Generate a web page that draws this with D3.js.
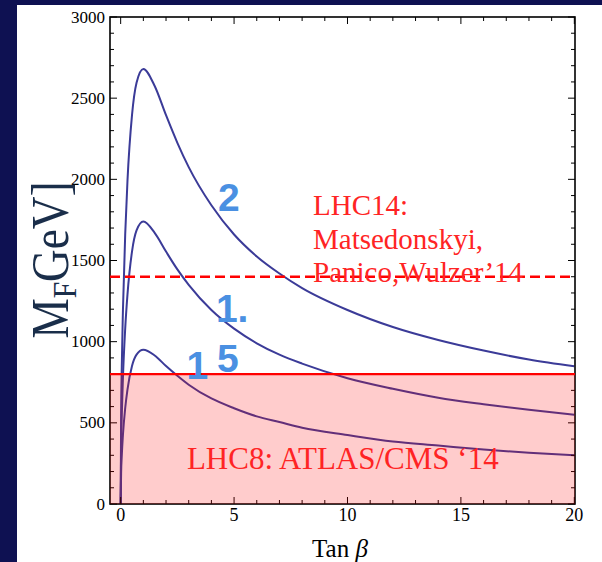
<!DOCTYPE html>
<html>
<head>
<meta charset="utf-8">
<script src="https://cdn.jsdelivr.net/npm/d3@7/dist/d3.min.js"></script>
<style>
  html, body { margin: 0; padding: 0; background: #0e1152; }
  svg { display: block; }
</style>
</head>
<body>
<svg id="chart" width="602" height="562"></svg>
<script>
// tan(beta) sample points and the fermion partner mass bound M_F [GeV] for each curve
const tanBeta = [0, 0.02, 0.05, 0.1, 0.2, 0.3, 0.5, 0.7, 1, 1.5, 2, 2.5, 3, 4, 5, 6, 7, 8, 10, 12, 14, 16, 18, 20];
const mF_2   = [0, 540, 850, 1190, 1660, 1990, 2395, 2595, 2680, 2575, 2395, 2225, 2075, 1840, 1660, 1525, 1420, 1330, 1195, 1090, 1010, 945, 890, 848];
const mF_1   = [0, 350, 550, 775, 1080, 1290, 1555, 1685, 1740, 1670, 1555, 1445, 1350, 1195, 1080, 990, 920, 865, 775, 710, 655, 615, 580, 550];
const mF_15  = [0, 190, 300, 425, 590, 705, 850, 920, 950, 915, 850, 790, 735, 650, 590, 540, 505, 470, 425, 385, 360, 335, 315, 300];

// experimental exclusion limits [GeV]
const lhc8Limit = 800;
const lhc14Reach = 1400;

// tick labels
const xTickValues = [0, 5, 10, 15, 20];
const yTickValues = [0, 500, 1000, 1500, 2000, 2500, 3000];

// curve annotations: [text, tanBeta, M_F]
const curveLabels = [["2", 4.29, 1805], ["1.", 4.2, 1121], ["1", 2.9, 770], ["5", 4.25, 813]];
const lhc14Lines = ["LHC14:", "Matsedonskyi,", "Panico,Wulzer\u201914"];
const lhc8Text = "LHC8: ATLAS/CMS \u201814";

const svg = d3.select("#chart");
const W = 602, H = 562;

// white panel over the dark slide background
svg.append("rect").attr("x", 17).attr("y", 5).attr("width", W - 17).attr("height", H - 5).attr("fill", "#fff");

const L = 110, R = 575, T = 17, B = 504;
const x = d3.scaleLinear().domain([-0.47, 20.03]).range([L, R]);
const y = d3.scaleLinear().domain([0, 3000]).range([B, T]);

const serif = "'Liberation Serif', 'Times New Roman', serif";
const sans = "'Liberation Sans', Arial, sans-serif";

svg.append("clipPath").attr("id", "plot").append("rect")
  .attr("x", L).attr("y", T).attr("width", R - L).attr("height", B - T);

// curves
const line = d3.line().x((d, i) => x(tanBeta[i])).y(d => y(d)).curve(d3.curveMonotoneX);
const g = svg.append("g").attr("clip-path", "url(#plot)");
[mF_2, mF_1, mF_15].forEach(s => {
  g.append("path").attr("d", line(s)).attr("fill", "none")
    .attr("stroke", "#3b3b98").attr("stroke-width", 2);
});

// frame and inward ticks
const frame = svg.append("g");
frame.append("rect").attr("x", L).attr("y", T).attr("width", R - L).attr("height", B - T)
  .attr("fill", "none").attr("stroke", "#000").attr("stroke-width", 1.6);

const xMinor = d3.range(0, 21, 1);
const yMinor = d3.range(0, 3001, 100);
xMinor.forEach(v => {
  const len = v % 5 === 0 ? 7 : 4;
  frame.append("line").attr("x1", x(v)).attr("x2", x(v)).attr("y1", B).attr("y2", B - len).attr("stroke", "#000").attr("stroke-width", 1);
  frame.append("line").attr("x1", x(v)).attr("x2", x(v)).attr("y1", T).attr("y2", T + len).attr("stroke", "#000").attr("stroke-width", 1);
});
yMinor.forEach(v => {
  const len = v % 500 === 0 ? 7 : 4;
  frame.append("line").attr("y1", y(v)).attr("y2", y(v)).attr("x1", L).attr("x2", L + len).attr("stroke", "#000").attr("stroke-width", 1);
  frame.append("line").attr("y1", y(v)).attr("y2", y(v)).attr("x1", R).attr("x2", R - len).attr("stroke", "#000").attr("stroke-width", 1);
});

// tick labels
svg.append("g").selectAll("text").data(xTickValues).join("text")
  .attr("x", d => x(d)).attr("y", 521).attr("text-anchor", "middle")
  .attr("font-family", serif).attr("font-size", 18).attr("fill", "#000").text(d => d);
svg.append("g").selectAll("text").data(yTickValues).join("text")
  .attr("x", 105).attr("y", d => y(d) + 5.5).attr("text-anchor", "end")
  .attr("font-family", serif).attr("font-size", 17).attr("fill", "#000").text(d => d);

// axis titles
const xt = svg.append("text").attr("x", 340).attr("y", 557).attr("text-anchor", "middle")
  .attr("font-family", serif).attr("font-size", 25).attr("fill", "#000");
xt.append("tspan").text("Tan ");
xt.append("tspan").attr("font-style", "italic").text("\u03b2");

const yt = svg.append("text").attr("transform", "translate(68,260) rotate(-90) scale(0.87,1)")
  .attr("text-anchor", "middle").attr("font-family", serif).attr("font-size", 52).attr("fill", "#1a2e4a");
yt.append("tspan").text("M");
yt.append("tspan").attr("font-size", 34).attr("dy", 8).text("F");
yt.append("tspan").attr("dy", -8).text("GeV]");

// LHC14 projected reach (dashed)
svg.append("line").attr("x1", L).attr("x2", R).attr("y1", y(lhc14Reach)).attr("y2", y(lhc14Reach))
  .attr("stroke", "#ff0000").attr("stroke-width", 2.6).attr("stroke-dasharray", "10,5");

// LHC8 excluded region
svg.append("rect").attr("x", L).attr("y", y(lhc8Limit)).attr("width", R - L).attr("height", y(0) - y(lhc8Limit))
  .attr("fill", "#ff0000").attr("fill-opacity", 0.2);
svg.append("line").attr("x1", L).attr("x2", R).attr("y1", y(lhc8Limit)).attr("y2", y(lhc8Limit))
  .attr("stroke", "#ff0000").attr("stroke-width", 2.4);

// curve annotations
svg.append("g").selectAll("text").data(curveLabels).join("text")
  .attr("x", d => x(d[1])).attr("y", d => y(d[2]))
  .attr("font-family", sans).attr("font-weight", "bold").attr("font-size", 39)
  .attr("fill", "#4a90e2").text(d => d[0]);

// limit annotations
svg.append("g").selectAll("text").data(lhc14Lines).join("text")
  .attr("x", x(8.48)).attr("y", (d, i) => y(1780) + i * 33.5)
  .attr("font-family", serif).attr("font-size", 29).attr("fill", "#ff2424").text(d => d);
svg.append("text").attr("x", x(2.92)).attr("y", y(216))
  .attr("font-family", serif).attr("font-size", 31).attr("fill", "#ff2424").text(lhc8Text);
</script>
</body>
</html>
